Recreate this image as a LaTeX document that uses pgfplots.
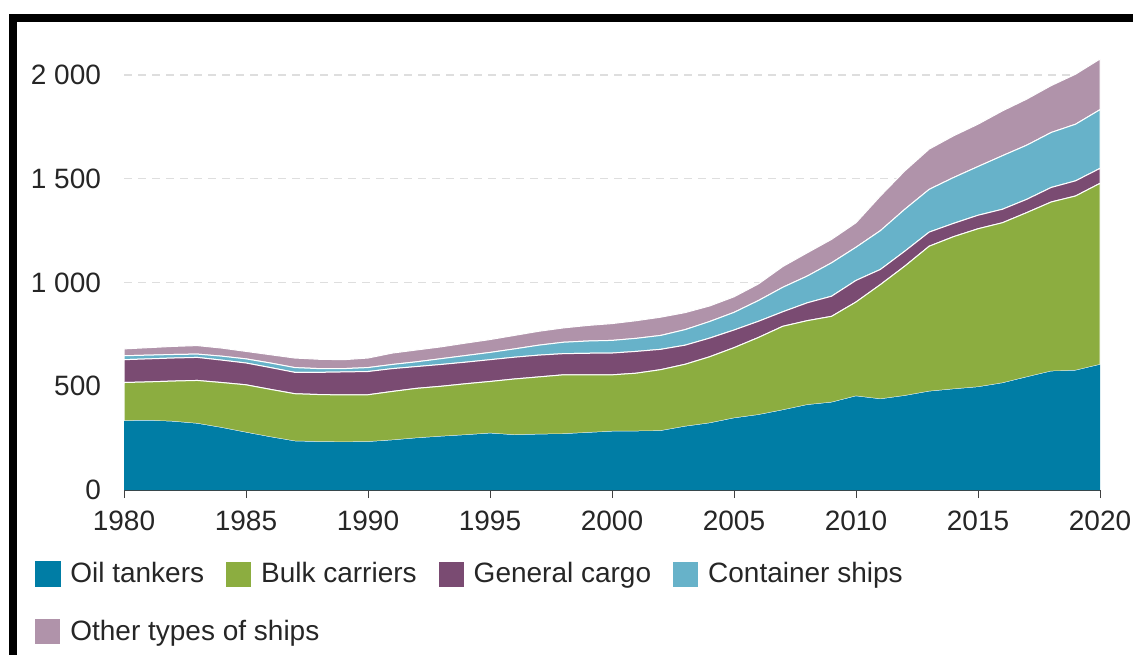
\documentclass[border=0pt]{standalone}
\usepackage{pgfplots}
\pgfplotsset{compat=1.18}
\usepackage{pgfplotstable}
\usepackage{fontspec}
\setmainfont{Liberation Sans}

\definecolor{oilc}{RGB}{0,125,165}
\definecolor{bulkc}{RGB}{140,173,64}
\definecolor{cargoc}{RGB}{122,75,114}
\definecolor{contc}{RGB}{103,178,201}
\definecolor{otherc}{RGB}{176,147,170}

% fleet by ship type, per year
\pgfplotstableread{
year oil bulk cargo cont other
1980 333 185 110 19 33
1981 335 186 111 18 36
1982 330 195 111 17 39
1983 320 208 111 16 41
1984 300 218 108 19 39
1985 277 230 105 20 36
1986 255 230 105 22 40
1987 235 229 103 23 46
1988 232 228 107 18 45
1989 231 227 111 16 43
1990 232 227 112 19 46
1991 240 235 110 20 55
1992 250 240 105 23 57
1993 258 242 105 28 57
1994 265 247 104 32 60
1995 273 250 105 35 62
1996 265 270 105 40 65
1997 268 277 105 48 67
1998 270 285 102 55 69
1999 276 279 104 59 75
2000 282 273 105 61 81
2001 283 280 105 63 85
2002 285 295 98 67 88
2003 306 300 92 75 82
2004 322 320 90 80 75
2005 346 340 85 85 75
2006 362 373 78 100 80
2007 385 404 70 118 100
2008 410 406 86 129 112
2009 422 415 97 161 113
2010 452 454 104 160 118
2011 438 552 73 187 167
2012 454 625 72 202 185
2013 475 700 68 206 194
2014 486 735 64 221 201
2015 496 763 65 235 204
2016 515 773 65 258 216
2017 544 793 64 261 222
2018 572 816 70 265 226
2019 576 841 73 273 241
2020 604 874 72 283 244
}\fleet

\begin{document}
\begin{tikzpicture}
\useasboundingbox (-62pt,-82.5pt) rectangle (504.5pt,245pt);
\fill[black] (-57.5pt,234pt) rectangle (504.5pt,238pt);
\fill[black] (-57.5pt,-82.5pt) rectangle (-53.5pt,238pt);
\begin{axis}[
  at={(0,0)}, anchor=south west,
  scale only axis, width=488pt, height=207.5pt,
  xmin=1980, xmax=2020, ymin=0, ymax=2000, clip=false,
  stack plots=y,
  axis lines*=left, axis line style={-},
  x axis line style={black!75, line width=0.5pt},
  y axis line style={draw=none},
  xtick={1980,1985,...,2020},
  ytick={0,500,...,2000},
  yticklabels={0,500,1 000,1 500,2 000},
  x tick label style={/pgf/number format/1000 sep={}, yshift=-3pt},
  /pgf/number format/assume math mode=true,
  tick label style={font=\fontsize{14}{16}\selectfont, text=black!85},
  xtick align=outside, major tick length=4pt,
  xtick style={black!75, line width=0.5pt},
  ytick style={draw=none},
  yticklabel style={xshift=-8pt},
  ymajorgrids,
  grid style={dash pattern=on 4pt off 3pt, color=black!13, line width=0.6pt},
  legend columns=4, legend cell align=left,
  legend image code/.code={\fill[#1] (0pt,-6.5pt) rectangle (13pt,6.5pt);},
  legend style={at={(rel axis cs:-0.0923,-0.164)}, anchor=north west,
    draw=none, fill=none, inner sep=0pt,
    font=\fontsize{14}{16}\selectfont, text=black!85,
    row sep=13pt,
    /tikz/every odd column/.append style={column sep=2.5pt},
    /tikz/every even column/.append style={column sep=8.5pt}},
]
\addplot[fill=oilc, draw=none] table[x=year, y=oil] {\fleet} \closedcycle;
\addlegendentry{Oil tankers}
\addplot[fill=bulkc, draw=white, line width=0.5pt] table[x=year, y=bulk] {\fleet} \closedcycle;
\addlegendentry{Bulk carriers}
\addplot[fill=cargoc, draw=white, line width=0.5pt] table[x=year, y=cargo] {\fleet} \closedcycle;
\addlegendentry{General cargo}
\addplot[fill=contc, draw=white, line width=0.5pt] table[x=year, y=cont] {\fleet} \closedcycle;
\addlegendentry{Container ships}
\addplot[fill=otherc, draw=white, line width=0.5pt] table[x=year, y=other] {\fleet} \closedcycle;
\addlegendentry{\rlap{Other types of ships}}
\draw[black!75, line width=0.5pt] (axis cs:1980,0) -- (axis cs:2020,0);
\end{axis}
\end{tikzpicture}
\end{document}
